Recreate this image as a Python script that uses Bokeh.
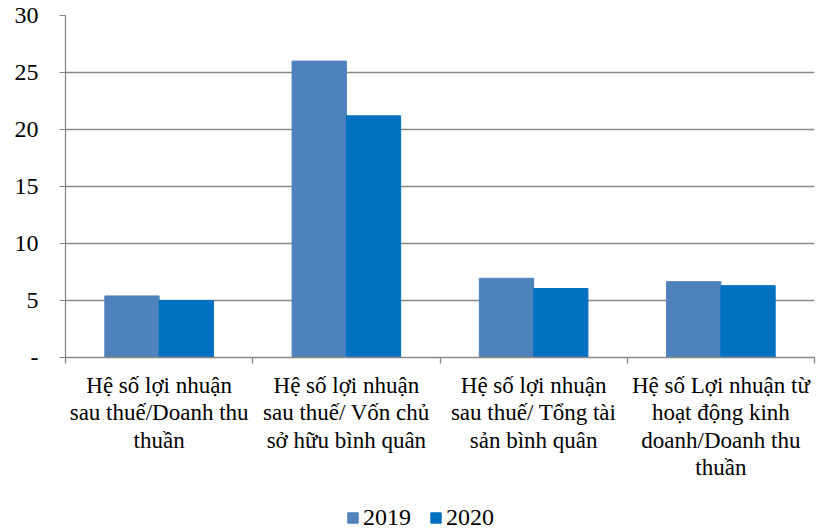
from bokeh.plotting import figure
from bokeh.layouts import column
from bokeh.models import Range1d, FixedTicker, Legend, LegendItem, ColumnDataSource
from bokeh.transform import dodge
from bokeh.embed import file_html
from bokeh.resources import INLINE

categories = [
    "Hệ số lợi nhuận\nsau thuế/Doanh thu\nthuần",
    "Hệ số lợi nhuận\nsau thuế/ Vốn chủ\nsở hữu bình quân",
    "Hệ số lợi nhuận\nsau thuế/ Tổng tài\nsản bình quân",
    "Hệ số Lợi nhuận từ\nhoạt động kinh\ndoanh/Doanh thu\nthuần",
]
series_names = ["2019", "2020"]
values_2019 = [5.4, 26.0, 6.95, 6.65]
values_2020 = [5.0, 21.2, 6.05, 6.3]
y_ticks = [0, 5, 10, 15, 20, 25, 30]
y_tick_labels = ["-", "5", "10", "15", "20", "25", "30"]
colors = ["#4F81BD", "#0070C0"]

FONT = "Liberation Serif"
GREY = "#888888"

n = len(categories)
centers = [i + 0.5 for i in range(n)]
bounds = list(range(n + 1))
src = ColumnDataSource(data=dict(x=centers, v2019=values_2019, v2020=values_2020))

p = figure(width=820, height=490, x_range=Range1d(0, n), y_range=Range1d(0, 30),
           output_backend="svg", toolbar_location=None,
           min_border_left=65, min_border_top=15, min_border_right=6, min_border_bottom=133)
p.outline_line_color = None
p.xgrid.visible = False
p.ygrid.ticker = FixedTicker(ticks=y_ticks)
p.ygrid.grid_line_color = GREY
p.ygrid.grid_line_width = 1.3

ya = p.yaxis[0]
ya.ticker = FixedTicker(ticks=y_ticks)
ya.major_label_overrides = {t: l for t, l in zip(y_ticks, y_tick_labels)}
ya.major_label_text_font = FONT
ya.major_label_text_font_size = "24px"
ya.major_label_text_color = "black"
ya.axis_line_color = GREY
ya.axis_line_width = 1.3
ya.major_tick_line_color = GREY
ya.major_tick_in = 0
ya.major_tick_out = 6
ya.minor_tick_line_color = None
ya.major_label_standoff = 21

xa = p.xaxis[0]
xa.ticker = FixedTicker(ticks=centers, minor_ticks=bounds)
xa.major_label_overrides = {c: l for c, l in zip(centers, categories)}
xa.major_label_text_font = FONT
xa.major_label_text_font_size = "23px"
xa.major_label_text_color = "black"
xa.major_label_text_line_height = 1.1
xa.major_label_standoff = 9
xa.major_tick_line_color = None
xa.minor_tick_line_color = GREY
xa.minor_tick_line_width = 1.3
xa.minor_tick_in = 0
xa.minor_tick_out = 6
xa.axis_line_color = GREY
xa.axis_line_width = 1.3

r1 = p.vbar(x=dodge("x", -0.145), top="v2019", width=0.29, source=src,
            fill_color=colors[0], line_color=colors[0])
r2 = p.vbar(x=dodge("x", 0.145), top="v2020", width=0.29, source=src,
            fill_color=colors[1], line_color=colors[1])

# legend strip below the chart (same data, y range chosen so no bar shows there)
lf = figure(width=820, height=41, x_range=Range1d(0, n), y_range=Range1d(100, 101),
            output_backend="svg", toolbar_location=None, min_border=0,
            x_axis_location=None, y_axis_location=None)
lf.outline_line_color = None
lf.xgrid.visible = False
lf.ygrid.visible = False
l1 = lf.vbar(x=dodge("x", -0.145), top="v2019", width=0.29, source=src,
             fill_color=colors[0], line_color=colors[0])
l2 = lf.vbar(x=dodge("x", 0.145), top="v2020", width=0.29, source=src,
             fill_color=colors[1], line_color=colors[1])
legend = Legend(items=[LegendItem(label=series_names[0], renderers=[l1]),
                       LegendItem(label=series_names[1], renderers=[l2])],
                orientation="horizontal", location=(281, 0), border_line_color=None,
                background_fill_alpha=0, label_text_color="black",
                label_text_font=FONT, label_text_font_size="24px", glyph_width=13,
                glyph_height=13, spacing=18, padding=0, margin=0, label_standoff=4)
lf.add_layout(legend)

layout = column(p, lf, spacing=0)
open("out.html", "w").write(file_html(layout, INLINE))
